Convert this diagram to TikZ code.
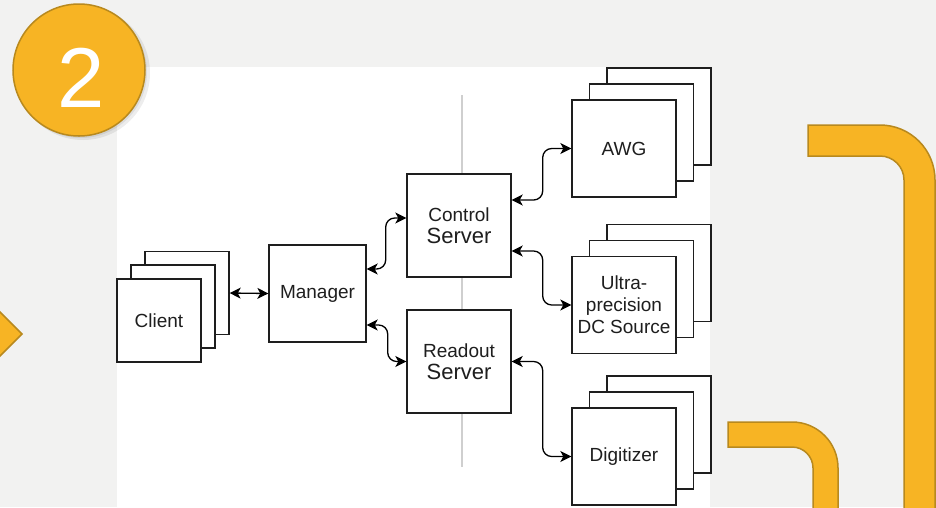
\documentclass[tikz,border=0pt]{standalone}
\usepackage{fontspec}
\setmainfont{Liberation Sans}
\usetikzlibrary{arrows.meta,positioning}
\definecolor{pagegray}{HTML}{F2F2F1}
\definecolor{pipefill}{HTML}{F7B424}
\definecolor{pipeedge}{HTML}{B8891E}
\definecolor{rulegray}{HTML}{CFCFCF}
\definecolor{inkdark}{HTML}{1E1E1E}
\tikzset{
  card/.style={draw=inkdark, fill=white, line width=1.4pt, inner sep=2pt, align=center,
    text=inkdark, font=\fontsize{19}{22}\selectfont},
  devcard/.style={card, minimum width=104pt, minimum height=97pt},
  link/.style={draw=black, line width=1.3pt, rounded corners=9pt,
    >={Stealth[length=11pt,width=11pt,inset=3pt]}, <->},
  pipe/.style={fill=pipefill, draw=pipeedge, line width=1.5pt},
}
\newcommand{\bigword}[1]{{\fontsize{22}{24}\selectfont #1}}
\begin{document}
\begin{tikzpicture}[x=1pt,y=-1pt]
\useasboundingbox (0,0) rectangle (936,507);
\clip (0,0) rectangle (936,507);
\fill[pagegray] (0,0) rectangle (936,507);
\fill[white] (117,67) rectangle (710,507);

% yellow trim around the panel
\draw[pipe] (22,334) -- (-20,292) -- (-62,334) -- (-20,376) -- cycle;
\draw[pipe] (808,125) -- (880,125) arc[start angle=-90,end angle=0,radius=55]
  -- (935,520) -- (904,520) -- (904,180) arc[start angle=0,end angle=-90,radius=24]
  -- (808,156) -- cycle;
\draw[pipe] (728,422) -- (792,422) arc[start angle=-90,end angle=0,radius=46]
  -- (838,520) -- (813,520) -- (813,468) arc[start angle=0,end angle=-90,radius=21]
  -- (728,447) -- cycle;

% step badge
\fill[black,opacity=.07] (83,73) circle[radius=67];
\fill[black,opacity=.07] (81,72) circle[radius=66];
\draw[pipe] (79,70) circle[radius=66];
\node[text=white, font=\fontsize{85}{85}\selectfont] (step) at (81,78) {2};

\draw[rulegray, line width=1.2pt] (462,95) -- (462,467);

% client stack
\node[card, minimum width=84pt, minimum height=83pt] (cli3) at (187,293) {};
\node[card, minimum width=84pt, minimum height=83pt] (cli2) at (173,306.5) {};
\node[card, minimum width=84pt, minimum height=83pt] (cli) at (159,320.5) {Client};

\node[card, minimum size=97pt] (mgr) at (317.5,293.5) {Manager};
\node[card, minimum width=104pt, minimum height=103pt] (ctl) at (459,225.5) {Control\\\bigword{Server}};
\node[card, minimum width=104pt, minimum height=103pt] (rdo) at (459,361.5) {Readout\\\bigword{Server}};

% instrument stacks
\foreach \dev/\cy in {awg/148.5, dc/305, dig/456.5} {
  \node[devcard] (\dev3) at (659,\cy-32) {};
  \node[devcard] (\dev2) at (641.5,\cy-16) {};
}
\node[devcard] (awg) at (624,148.5) {AWG};
\node[devcard] (dc) at (624,305) {Ultra-\\precision\\DC Source};
\node[devcard] (dig) at (624,456.5) {Digitizer};

\draw[link] (cli3.east) -- (mgr.west);
\draw[link] ([yshift=24.5pt]mgr.east) -- ++(19,0) |- ([yshift=7.5pt]ctl.west);
\draw[link] ([yshift=-31.5pt]mgr.east) -- ++(21,0) |- (rdo.west);
\draw[link] ([yshift=25.5pt]ctl.east) -- ++(31,0) |- (awg.west);
\draw[link] ([yshift=-25.5pt]ctl.east) -- ++(31,0) |- (dc.west);
\draw[link] (rdo.east) -- ++(31,0) |- (dig.west);
\end{tikzpicture}
\end{document}
